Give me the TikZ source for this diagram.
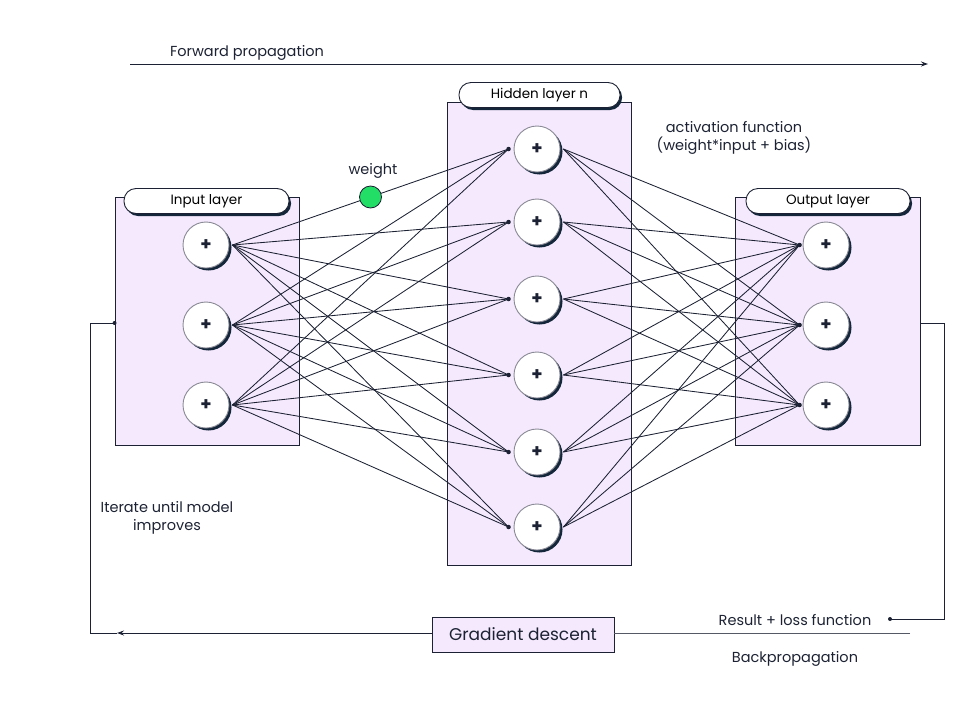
\documentclass[tikz,border=0pt]{standalone}
\usepackage{fontspec}
\setmainfont{Poppins}
\usetikzlibrary{shadows,arrows.meta,calc}
\definecolor{lav}{HTML}{F5E9FD}
\definecolor{ink}{HTML}{1C2233}
\definecolor{shad}{HTML}{14263A}
\definecolor{ringgray}{HTML}{8A8A96}
\definecolor{wgreen}{HTML}{22DD66}
\tikzset{
  layerbox/.style={draw=ink, line width=0.9pt, fill=lav, inner sep=0pt},
  header/.style={draw=ink, line width=0.9pt, fill=white, rounded corners=12pt,
    minimum height=25pt, inner sep=0pt, font=\fontsize{13.5}{15}\selectfont,
    drop shadow={shadow xshift=2pt, shadow yshift=-2.5pt, fill=shad, opacity=1}},
  neuron/.style={circle, draw=ringgray, line width=0.9pt, fill=white, minimum size=46pt, inner sep=0pt,
    font=\fontsize{18}{18}\selectfont\bfseries, text=ink,
    drop shadow={shadow xshift=2.5pt, shadow yshift=-2.5pt, fill=shad, opacity=1}},
  conn/.style={draw=ink, line width=0.85pt},
  dotc/.style={circle, fill=ink, inner sep=0pt, minimum size=4.5pt},
  lbl/.style={font=\fontsize{14.5}{18}\selectfont, text=ink, align=center},
  flow/.style={draw=ink, line width=1pt},
}
\begin{document}
\begin{tikzpicture}[x=1pt,y=-1pt]
\useasboundingbox (0,0) rectangle (960,720);
% layer boxes
\node[layerbox, minimum width=184pt, minimum height=248pt] (inbox) at (207,321) {};
\node[layerbox, minimum width=184pt, minimum height=463pt] (hidbox) at (539,333.5) {};
\node[layerbox, minimum width=185pt, minimum height=248pt] (outbox) at (827.5,321) {};
% headers
\node[header, minimum width=165pt] (inhead) at (206.5,201) {Input layer};
\node[header, minimum width=161pt] (hidhead) at (539.5,95) {Hidden layer n};
\node[header, minimum width=164pt] (outhead) at (828,201) {Output layer};
% neurons
\foreach \n/\y in {1/245,2/325,3/405} {
  \node[neuron] (i\n) at (206,\y) {+};
  \node[neuron] (o\n) at (826,\y) {+};
}
\foreach \n/\y in {1/149,2/222,3/299,4/375,5/452,6/527} {
  \node[neuron] (h\n) at (537,\y) {+};
}
% connections
\foreach \a in {1,2,3} {
  \foreach \b in {1,...,6} {
    \draw[conn] ([xshift=3pt]i\a.east) -- ([xshift=-5pt]h\b.west);
    \draw[conn] ([xshift=3pt]h\b.east) -- ([xshift=-3pt]o\a.west);
  }
}
\foreach \b in {1,...,6} { \node[dotc] at ([xshift=-5pt]h\b.west) {}; }
\foreach \a in {1,2,3} { \node[dotc] at ([xshift=-3pt]o\a.west) {}; }
% weight
\node[circle, draw=ink, line width=0.8pt, fill=wgreen, minimum size=22pt, inner sep=0pt] (w) at ($([xshift=3pt]i1.east)!0.5!([xshift=-5pt]h1.west)$) {};
\node[lbl] (wl) at (373,171) {weight};
% top labels
\node[lbl] (fp) at (247,53) {Forward propagation};
\coordinate (fs) at (130,64);
\coordinate (fe) at (928,64);
\draw[flow, -{Stealth[length=7pt,width=5pt]}] (fs) -- (fe);
\node[lbl] (act) at (734,138) {activation function\\(weight*input + bias)};
% feedback
\node[draw=ink, line width=0.9pt, fill=lav, minimum width=182pt, minimum height=35pt, inner sep=0pt,
  font=\fontsize{17}{20}\selectfont, text=ink] (gd) at (523,634.5) {Gradient descent};
\node[lbl] (res) at (795,620) {Result + loss function};
\node[lbl] (bp) at (795,659) {Backpropagation};
\node[lbl] (it) at (167,518) {Iterate until model\\improves};
\coordinate (r1) at (944,323);
\coordinate (r2) at (944,619);
\coordinate (r3) at (890,619);
\draw[flow] (outbox.east |- r1) -- (r1) -- (r2) -- (r3);
\node[dotc, minimum size=4pt] at (r3) {};
\coordinate (b1) at (910,633);
\coordinate (b2) at (117,633);
\coordinate (l1) at (90,633);
\coordinate (l2) at (90,323);
\draw[draw=ink!75, line width=1pt] (b1) -- (gd.east |- b1);
\draw[flow, -{Stealth[length=7pt,width=5pt]}] (gd.west |- b1) -- (b2);
\draw[flow] (b2) -- (l1) -- (l2) -- (inbox.west |- l2);
\node[dotc, minimum size=4pt] at (inbox.west |- l2) {};
\end{tikzpicture}
\end{document}
